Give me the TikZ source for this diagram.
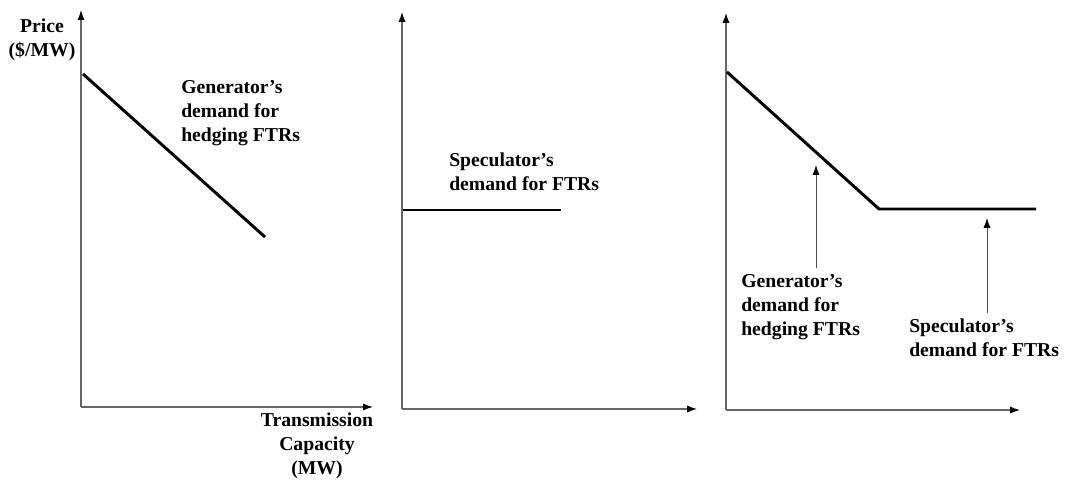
\documentclass[tikz,border=0pt]{standalone}
\usepackage{fontspec}
\setmainfont{Liberation Serif}
\usepackage{tikz}
\usetikzlibrary{positioning,calc,arrows.meta}

\tikzset{
    axis/.style={draw=black!60, line width=0.8pt, -{Latex[length=7pt,width=5pt,color=black]}},
    curve/.style={draw=black, line width=2.1pt},
    pointer/.style={draw=black!70, line width=0.7pt, -{Latex[length=7pt,width=5pt,color=black]}},
    lbl/.style={font=\bfseries\fontsize{14}{17}\selectfont, inner sep=0pt},
}

\begin{document}
\begin{tikzpicture}
    \useasboundingbox (0,0) rectangle (26.775,12.075);

    % Generator alone
    \coordinate (o1) at (2.025,1.9);
    \coordinate (y1) at (2.025,11.825);
    \coordinate (x1) at (9.325,1.9);
    \draw [axis] (o1) -- (y1);
    \draw [axis] (o1) -- (x1);
    \coordinate (g1a) at (2.075,10.225);
    \coordinate (g1b) at (6.625,6.15);
    \draw [curve] (g1a) -- (g1b);
    \node [lbl, anchor=west, align=left] (gen1) at (4.525,9.25) {Generator’s\\demand for\\hedging FTRs};
    \node [lbl, align=center] (price) at (1.05,11.075) {Price\\(\$/MW)};
    \node [lbl, align=center] (cap) at (7.925,0.925) {Transmission\\Capacity\\(MW)};

    % Speculator alone
    \coordinate (o2) at (10.05,1.85);
    \coordinate (y2) at (10.05,11.775);
    \coordinate (x2) at (17.425,1.85);
    \draw [axis] (o2) -- (y2);
    \draw [axis] (o2) -- (x2);
    \coordinate (s2a) at (10.075,6.825);
    \coordinate (s2b) at (14.025,6.825);
    \draw [curve] (s2a) -- (s2b);
    \node [lbl, anchor=west, align=left] (spec2) at (11.225,7.775) {Speculator’s\\demand for FTRs};

    % Combined
    \coordinate (o3) at (18.15,1.825);
    \coordinate (y3) at (18.15,11.75);
    \coordinate (x3) at (25.5,1.825);
    \draw [axis] (o3) -- (y3);
    \draw [axis] (o3) -- (x3);
    \coordinate (c3a) at (18.175,10.275);
    \coordinate (c3k) at (21.975,6.85);
    \coordinate (c3b) at (25.9,6.85);
    \draw [curve, line join=round] (c3a) -- (c3k) -- (c3b);
    \node [lbl, anchor=west, align=left] (gen3) at (18.525,4.4) {Generator’s\\demand for\\hedging FTRs};
    \node [lbl, anchor=west, align=left] (spec3) at (22.725,3.625) {Speculator’s\\demand for FTRs};
    \coordinate (g3tip) at (20.4,7.95);
    \coordinate (s3tip) at (24.675,6.625);
    \draw [pointer] ($(g3tip |- gen3.north)+(0,0.15)$) -- (g3tip);
    \draw [pointer] ($(s3tip |- spec3.north)+(0,0.15)$) -- (s3tip);
\end{tikzpicture}
\end{document}
